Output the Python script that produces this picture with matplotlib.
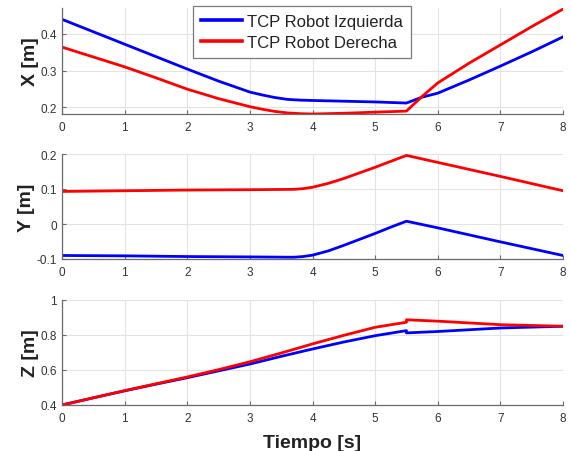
import matplotlib
matplotlib.use("Agg")
import matplotlib.pyplot as plt

plt.rcParams['font.family'] = ['Liberation Sans', 'DejaVu Sans']

# ---- data ----
t_x_izq = [0, 0.5, 1, 1.5, 2, 2.5, 3, 3.2, 3.4, 3.6, 3.8, 4, 4.5, 5, 5.5, 5.75, 6, 6.5, 7, 7.5, 8]
x_izq   = [0.440, 0.406, 0.372, 0.338, 0.304, 0.271, 0.241, 0.233, 0.226, 0.221, 0.219,
           0.218, 0.216, 0.214, 0.211, 0.227, 0.238, 0.274, 0.312, 0.351, 0.392]
t_x_der = [0, 0.5, 1, 1.5, 2, 2.5, 3, 3.2, 3.4, 3.6, 3.8, 4, 4.5, 5, 5.5, 5.75, 6, 6.5, 7, 7.5, 8]
x_der   = [0.364, 0.337, 0.310, 0.280, 0.249, 0.223, 0.201, 0.194, 0.188, 0.184, 0.182,
           0.181, 0.183, 0.186, 0.189, 0.229, 0.266, 0.320, 0.370, 0.420, 0.468]

t_y_izq = [0, 1, 2, 3, 3.7, 3.85, 4, 4.25, 4.5, 4.75, 5, 5.25, 5.5, 6, 7, 8]
y_izq   = [-0.090, -0.091, -0.093, -0.094, -0.095, -0.093, -0.089, -0.077, -0.061, -0.044,
           -0.027, -0.009, 0.008, -0.011, -0.051, -0.090]
t_y_der = [0, 1, 2, 3, 3.7, 3.85, 4, 4.25, 4.5, 4.75, 5, 5.25, 5.5, 6, 7, 8]
y_der   = [0.093, 0.095, 0.097, 0.098, 0.099, 0.101, 0.105, 0.116, 0.130, 0.146,
           0.162, 0.179, 0.196, 0.176, 0.136, 0.095]

t_z     = [0, 0.5, 1, 1.5, 2, 2.5, 3, 3.5, 4, 4.5, 5, 5.5, 5.5, 6, 7, 8]
z_izq   = [0.400, 0.441, 0.481, 0.519, 0.556, 0.595, 0.634, 0.678, 0.720, 0.760, 0.796,
           0.825, 0.812, 0.820, 0.840, 0.850]
z_der   = [0.400, 0.441, 0.482, 0.521, 0.560, 0.602, 0.647, 0.697, 0.749, 0.798, 0.844,
           0.873, 0.887, 0.879, 0.859, 0.850]

labels = ['TCP Robot Izquierda', 'TCP Robot Derecha']
x_ticks = [0, 1, 2, 3, 4, 5, 6, 7, 8]

W, H = 571, 452
fig = plt.figure(figsize=(W / 100, H / 100), dpi=100)

def ax_at(top, bottom):
    return fig.add_axes([62 / W, 1 - bottom / H, (563 - 62) / W, (bottom - top) / H])

ax1 = ax_at(9, 115)
ax2 = ax_at(155, 260)
ax3 = ax_at(301, 406)

spine_c = '#6a6a6a'
text_c = '#333333'

def style(ax, ylim, yticks, ylabel):
    ax.set_xlim(0, 8)
    ax.set_ylim(*ylim)
    ax.set_xticks(x_ticks)
    ax.set_yticks(yticks)
    ax.set_yticklabels([('%g' % v) for v in yticks])
    ax.grid(True, color='#e3e3e3', linewidth=0.8)
    ax.set_axisbelow(True)
    for s in ['top', 'right']:
        ax.spines[s].set_visible(False)
    for s in ['left', 'bottom']:
        ax.spines[s].set_color(spine_c)
        ax.spines[s].set_linewidth(0.9)
    ax.tick_params(direction='in', length=3, width=0.8, color=spine_c,
                   labelcolor=text_c, labelsize=8.5)
    ax.tick_params(axis='x', pad=5)
    ax.tick_params(axis='y', pad=3.5)
    ax.set_ylabel(ylabel, fontsize=14, fontweight='bold', color='#222222', labelpad=1)

l1, = ax1.plot(t_x_izq, x_izq, color='#0000ff', lw=2)
l2, = ax1.plot(t_x_der, x_der, color='#ff0000', lw=2)
style(ax1, (0.181, 0.471), [0.2, 0.3, 0.4], 'X [m]')

ax2.plot(t_y_izq, y_izq, color='#0000ff', lw=2)
ax2.plot(t_y_der, y_der, color='#ff0000', lw=2)
style(ax2, (-0.1, 0.2), [-0.1, 0, 0.1, 0.2], 'Y [m]')

ax3.plot(t_z, z_izq, color='#0000ff', lw=2)
ax3.plot(t_z, z_der, color='#ff0000', lw=2)
style(ax3, (0.4, 1.0), [0.4, 0.6, 0.8, 1.0], 'Z [m]')
ax3.set_xlabel('Tiempo [s]', fontsize=14, fontweight='bold', color='#222222', labelpad=7)

leg = fig.legend([l1, l2], labels, loc='upper left',
                 bbox_to_anchor=(193 / W, 1 - 7 / H), borderaxespad=0,
                 fontsize=12, fancybox=False, framealpha=1, edgecolor='#7a7a7a',
                 handlelength=2.5, handletextpad=0.3, borderpad=0.45, labelspacing=0.4)
leg.get_frame().set_linewidth(0.9)
for line in leg.get_lines():
    line.set_linewidth(2.6)
for txt in leg.get_texts():
    txt.set_color('#222222')

fig.savefig('out.png', dpi=100)
